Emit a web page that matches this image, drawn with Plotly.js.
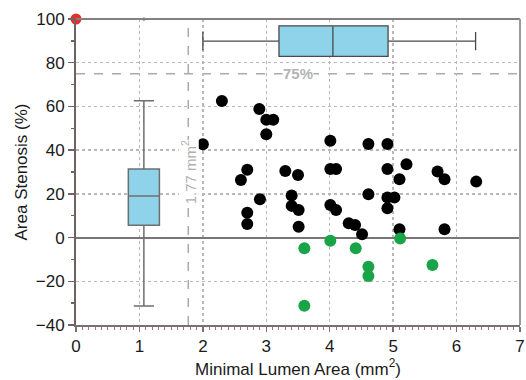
<!DOCTYPE html>
<html>
<head>
<meta charset="utf-8">
<script src="https://cdn.plot.ly/plotly-3.0.1.min.js"></script>
<style>html,body{margin:0;padding:0;background:#fff;}#chart{width:526px;height:380px;}</style>
</head>
<body>
<div id="chart"></div>
<script>
// Black points: lesions
const blackMLA = [2.0, 2.3, 2.89, 3.0, 3.11, 3.0, 2.7, 3.3, 3.5, 2.6, 2.9, 2.7, 2.7, 3.4, 3.4, 3.51, 3.51,
  4.01, 4.61, 4.91, 4.01, 4.1, 4.91, 5.21, 5.1, 5.7, 5.81, 6.31, 4.61, 4.91, 5.02, 4.91, 4.01, 4.1, 4.3, 4.4, 4.51, 5.1, 5.81];
const blackStenosis = [42.7, 62.5, 58.8, 53.9, 53.9, 47.3, 31.0, 30.5, 28.6, 26.3, 17.5, 11.4, 6.2, 19.2, 14.5, 12.6, 5.0,
  44.3, 42.8, 42.8, 31.4, 31.4, 31.4, 33.5, 26.7, 30.2, 26.7, 25.6, 19.8, 18.3, 18.3, 13.4, 14.9, 12.6, 6.5, 5.8, 1.5, 3.8, 3.8];
// Green points: negative stenosis
const greenMLA = [3.6, 4.01, 4.41, 4.61, 4.61, 5.11, 5.62, 3.6];
const greenStenosis = [-4.9, -1.5, -4.9, -13.3, -17.6, -0.4, -12.5, -31.2];
// Red point: occluded
const redMLA = [0];
const redStenosis = [100];
// Box summary of stenosis (vertical box)
const stenBoxPos = [1.07];
const stenQ1 = [5.6], stenMedian = [19], stenQ3 = [31.4], stenLow = [-31.3], stenHigh = [62.6];
const stenOutlierX = [1.07], stenOutlierY = [100];
// Box summary of MLA (horizontal box)
const mlaBoxPos = [89.9];
const mlaQ1 = [3.2], mlaMedian = [4.05], mlaQ3 = [4.92], mlaLow = [2.0], mlaHigh = [6.3];
// Reference thresholds
const refMLA = 1.77;
const refStenosis = 75;
const labelMLA = "1.77 mm<sup>2</sup>";
const labelStenosis = "75%";
const xTitle = "Minimal Lumen Area (mm<sup>2</sup>)";
const yTitle = "Area Stenosis (%)";

const boxFill = '#8ed3ea';
const traces = [
  {type:'box', x: stenBoxPos, q1: stenQ1, median: stenMedian, q3: stenQ3,
   lowerfence: stenLow, upperfence: stenHigh, width: 0.49, whiskerwidth: 0.65,
   fillcolor: boxFill, line:{color:'#6f6f6f', width:1.5}, boxpoints:false, hoverinfo:'skip'},
  {type:'box', orientation:'h', y: mlaBoxPos, q1: mlaQ1, median: mlaMedian, q3: mlaQ3,
   lowerfence: mlaLow, upperfence: mlaHigh, width: 14, whiskerwidth: 0.6,
   fillcolor: boxFill, line:{color:'#4a4a4a', width:1.3}, boxpoints:false, hoverinfo:'skip'},
  {type:'scatter', mode:'markers', x: stenOutlierX, y: stenOutlierY,
   marker:{color:'#222', size:3}, cliponaxis:false},
  {type:'scatter', mode:'markers', x: blackMLA, y: blackStenosis,
   marker:{color:'#000', size:12}},
  {type:'scatter', mode:'markers', x: greenMLA, y: greenStenosis,
   marker:{color:'#19a447', size:12}},
  {type:'scatter', mode:'markers', x: redMLA, y: redStenosis,
   marker:{color:'#e2312f', size:11}, cliponaxis:false}
];

const font = {family:'Liberation Sans, Arial, sans-serif', size:17, color:'#1a1a1a'};
const layout = {
  width:526, height:380,
  margin:{l:76, r:6, t:19, b:55},
  paper_bgcolor:'#fff', plot_bgcolor:'#fff',
  showlegend:false, font: font, boxmode:'overlay',
  xaxis:{range:[0,7], dtick:1, tick0:0, showgrid:true, gridcolor:'#b8b8b8', griddash:'dot', gridwidth:1.3,
    zeroline:false, showline:true, linecolor:'#7a7070', linewidth:2,
    ticks:'outside', ticklen:5, tickwidth:1.5, tickcolor:'#7a7070',
    minor:{dtick:0.1, ticklen:3, tickcolor:'#8a8080', tickwidth:1, showgrid:false},
    tickfont:font, automargin:false,
    title:{text:xTitle, font:font, standoff:6}},
  yaxis:{range:[-40,100], dtick:20, tick0:0, showgrid:true, gridcolor:'#b8b8b8', griddash:'dot', gridwidth:1.3,
    zeroline:true, zerolinecolor:'#7d7575', zerolinewidth:2,
    showline:true, linecolor:'#6e6262', linewidth:2,
    ticks:'outside', ticklen:6, tickwidth:1.5, tickcolor:'#6e6262',
    minor:{dtick:10, ticklen:3, tickcolor:'#6e6262', tickwidth:1.5, showgrid:false},
    tickfont:font, automargin:false,
    title:{text:yTitle, font:font, standoff:4}},
  shapes:[
    {type:'line', xref:'x', yref:'paper', x0:refMLA, x1:refMLA, y0:0, y1:1,
     line:{color:'#aaaaaa', width:1.5, dash:'dash'}, layer:'below'},
    {type:'line', xref:'paper', yref:'y', x0:0, x1:1, y0:refStenosis, y1:refStenosis,
     line:{color:'#aaaaaa', width:1.5, dash:'dash'}, layer:'below'},
    {type:'line', xref:'paper', yref:'paper', x0:0, x1:1, y0:1, y1:1,
     line:{color:'#858080', width:2}},
    {type:'line', xref:'paper', yref:'paper', x0:1, x1:1, y0:0, y1:1,
     line:{color:'#9a9a9a', width:2}}
  ],
  annotations:[
    {x:3.5, y:refStenosis, xref:'x', yref:'y', text:'<b>' + labelStenosis + '</b>', showarrow:false,
     bgcolor:'#fff', font:{family:'Liberation Sans, Arial, sans-serif', size:15, color:'#b3b3b3'}, borderpad:0},
    {x:refMLA, y:30, xref:'x', yref:'y', text:labelMLA, showarrow:false, textangle:-90,
     bgcolor:'#fff', font:{family:'Liberation Sans, Arial, sans-serif', size:15, color:'#b0b0b0'}, borderpad:0}
  ]
};
Plotly.newPlot('chart', traces, layout, {displayModeBar:false, staticPlot:true});
</script>
</body>
</html>
